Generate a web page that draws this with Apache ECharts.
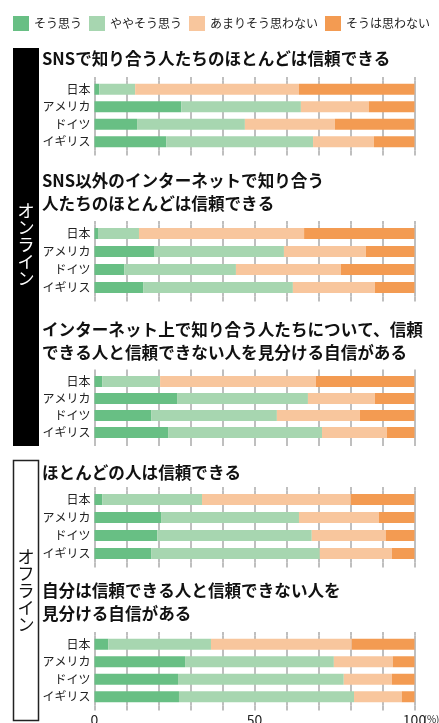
<!DOCTYPE html>
<html><head><meta charset="utf-8">
<script src="https://cdn.jsdelivr.net/npm/echarts@6/dist/echarts.min.js"></script>
<style>html,body{margin:0;padding:0;background:#fff}#c{width:439px;height:723px}</style>
</head><body><div id="c"></div>
<script>
const countries = ['日本', 'アメリカ', 'ドイツ', 'イギリス'];
const answers = ['そう思う', 'ややそう思う', 'あまりそう思わない', 'そうは思わない'];
const titles = [
  'SNSで知り合う人たちのほとんどは信頼できる',
  'SNS以外のインターネットで知り合う\n人たちのほとんどは信頼できる',
  'インターネット上で知り合う人たちについて、信頼\nできる人と信頼できない人を見分ける自信がある',
  'ほとんどの人は信頼できる',
  '自分は信頼できる人と信頼できない人を\n見分ける自信がある'
];
const xTicks = [0, 50, 100];
// values per question, one array per answer, in country order
const q1Agree = [1.5, 27.1, 13.3, 22.4];
const q1Somewhat = [11.2, 37.4, 33.7, 45.9];
const q1NotMuch = [51.2, 21.2, 28.1, 19.0];
const q1Disagree = [36.1, 14.3, 24.9, 12.7];
const q2Agree = [1.1, 18.6, 9.3, 15.2];
const q2Somewhat = [12.8, 40.6, 34.9, 46.8];
const q2NotMuch = [51.6, 25.6, 32.8, 25.6];
const q2Disagree = [34.5, 15.2, 23.0, 12.4];
const q3Agree = [2.4, 25.8, 17.7, 23.0];
const q3Somewhat = [18.1, 40.9, 39.3, 48.1];
const q3NotMuch = [48.7, 20.9, 25.9, 20.3];
const q3Disagree = [30.8, 12.4, 17.1, 8.6];
const q4Agree = [2.4, 20.8, 19.6, 17.7];
const q4Somewhat = [31.2, 43.1, 48.3, 52.7];
const q4NotMuch = [46.5, 25.0, 23.1, 22.5];
const q4Disagree = [19.9, 11.1, 9.0, 7.1];
const q5Agree = [4.3, 28.3, 26.1, 26.4];
const q5Somewhat = [32.1, 46.5, 51.8, 54.7];
const q5NotMuch = [44.0, 18.4, 15.0, 14.9];
const q5Disagree = [19.6, 6.8, 7.1, 4.0];

const questionData = [
  [q1Agree, q1Somewhat, q1NotMuch, q1Disagree],
  [q2Agree, q2Somewhat, q2NotMuch, q2Disagree],
  [q3Agree, q3Somewhat, q3NotMuch, q3Disagree],
  [q4Agree, q4Somewhat, q4NotMuch, q4Disagree],
  [q5Agree, q5Somewhat, q5NotMuch, q5Disagree]
];
const colors = ['#68bf84', '#a7d6b0', '#f8c69d', '#f39b52'];
const FONT = '"Noto Sans CJK JP", "Noto Sans", sans-serif';

const gridTops = [80.5, 224.5, 373, 490.5, 635.5];
const gridHeights = [70, 72, 68, 72, 70];
const titleTops = [47.5, 169.5, 318.5, 461.5, 579.5];

const grids = [], xAxes = [], yAxes = [], series = [], titleArr = [];
questionData.forEach((qd, i) => {
  const last = i === questionData.length - 1;
  grids.push({left: 94.5, right: 24.5, top: gridTops[i], height: gridHeights[i], containLabel: false, outerBoundsMode: 'none'});
  titleArr.push({
    text: titles[i], left: 42, top: titleTops[i], padding: 0,
    textStyle: {fontFamily: FONT, fontSize: 16.6, fontWeight: 'bold', color: '#111', lineHeight: 23}
  });
  xAxes.push({
    type: 'value', gridIndex: i, min: 0, max: 100, interval: 10, position: 'bottom',
    axisLine: {show: false},
    axisTick: {show: true, length: 5, lineStyle: {color: '#aaa', width: 1.5}},
    splitLine: {show: true, lineStyle: {color: '#aaa', width: 1.5}},
    axisLabel: {
      show: last, margin: 7, color: '#222', fontFamily: FONT, fontSize: 14,
      formatter: v => (xTicks.indexOf(v) >= 0 ? String(v) : '')
    },
    name: last ? '(%)' : '', nameLocation: 'end', nameGap: 9, nameMoveOverlap: false,
    nameTextStyle: {fontFamily: FONT, fontSize: 10, color: '#222', verticalAlign: 'top', align: 'left', padding: [9, 0, 0, 0]}
  });
  xAxes.push({
    type: 'value', gridIndex: i, min: 0, max: 100, interval: 10, position: 'top',
    axisLine: {show: false},
    axisTick: {show: true, length: 3.5, lineStyle: {color: '#aaa', width: 1.5}},
    splitLine: {show: false}, axisLabel: {show: false}
  });
  yAxes.push({
    type: 'category', gridIndex: i, data: countries, inverse: true,
    axisLine: {show: false}, axisTick: {show: false}, splitLine: {show: false},
    axisLabel: {margin: 4, color: '#222', fontFamily: FONT, fontSize: 12}
  });
  qd.forEach((vals, j) => {
    series.push({
      type: 'bar', name: answers[j], xAxisIndex: 2 * i, yAxisIndex: i, stack: 'q' + i,
      data: vals, barWidth: 11, itemStyle: {color: colors[j]}, silent: true
    });
  });
});

const chart = echarts.init(document.getElementById('c'), null, {renderer: 'canvas'});
chart.setOption({
  animation: false,
  color: colors,
  title: titleArr,
  legend: {
    data: answers, left: 13, top: 16, width: 430, icon: 'rect', itemWidth: 16, itemHeight: 15, itemGap: 7,
    padding: 0,
    textStyle: {fontFamily: FONT, fontSize: 12, color: '#222'}, selectedMode: false
  },
  grid: grids, xAxis: xAxes, yAxis: yAxes, series: series,
  graphic: [
    {type: 'rect', shape: {x: 13, y: 48, width: 26, height: 398}, style: {fill: '#000'}, silent: true},
    {type: 'text', x: 26, y: 245, style: {text: 'オ\nン\nラ\nイ\nン', fill: '#fff', font: '17px ' + FONT, lineHeight: 17, align: 'center', verticalAlign: 'middle'}, silent: true},
    {type: 'rect', shape: {x: 13.5, y: 460.5, width: 25, height: 260}, style: {fill: '#fff', stroke: '#222', lineWidth: 1.5}, silent: true},
    {type: 'text', x: 26, y: 591, style: {text: 'オ\nフ\nラ\nイ\nン', fill: '#111', font: '17px ' + FONT, lineHeight: 17, align: 'center', verticalAlign: 'middle'}, silent: true}
  ]
});
</script></body></html>
